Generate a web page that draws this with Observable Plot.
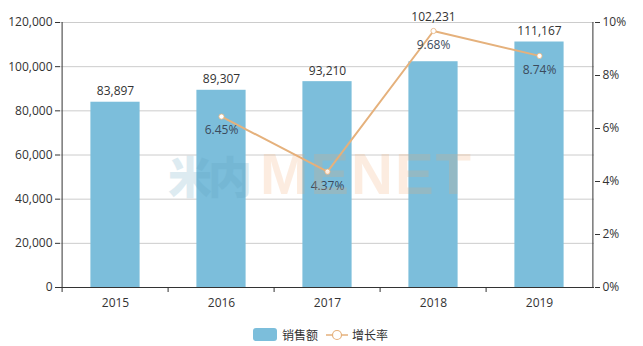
<!DOCTYPE html>
<html>
<head>
<meta charset="utf-8">
<script src="https://cdn.jsdelivr.net/npm/d3@7"></script>
<script src="https://cdn.jsdelivr.net/npm/@observablehq/plot@0.6"></script>
<style>
  body { margin: 0; background: #fff; font-family: "Open Sans", "Noto Sans CJK SC", sans-serif; }
  #wrap { position: relative; width: 643px; height: 346px; overflow: hidden; }
  #legend { position: absolute; left: 0; top: 326px; width: 643px; display: flex; justify-content: center; align-items: center; font-size: 12px; color: #333; font-family: "Noto Sans CJK SC", sans-serif; }
  .sw-bar { width: 24px; height: 13px; background: #7cbedb; border-radius: 3px; margin-right: 5px; margin-left: 6px; }
  .lab { margin-right: 8px; }
  #wm { position: absolute; left: 168px; top: 142px; line-height: 60px; font-weight: bold; font-size: 58px; pointer-events: none; opacity: 0.2; white-space: nowrap; }
  #wm .cn { color: #5b9fbd; font-family: "Noto Sans CJK SC", sans-serif; font-weight: 900; font-size: 44px; letter-spacing: -4px; margin-right: 12px; }
  #wm .en { color: #f2a66a; font-family: "Liberation Sans", Arial, sans-serif; letter-spacing: 2px; }
</style>
</head>
<body>
<div id="wrap">
  <div id="chart"></div>
  <div id="wm"><span class="cn">米内</span><span class="en">MENET</span></div>
  <div id="legend">
    <div class="sw-bar"></div><span class="lab">销售额</span>
    <svg width="22" height="14" style="margin-right:4px"><line x1="0" y1="7" x2="22" y2="7" stroke="#e5b17c" stroke-width="1.5"/><circle cx="11" cy="7" r="4.5" fill="#fff" stroke="#e5b17c" stroke-width="1.2"/></svg><span class="lab">增长率</span>
  </div>
</div>
<script>
const years = ["2015", "2016", "2017", "2018", "2019"];
const sales = [83897, 89307, 93210, 102231, 111167];
const growthYears = ["2016", "2017", "2018", "2019"];
const growth = [6.45, 4.37, 9.68, 8.74];
const leftTicks = [0, 20000, 40000, 60000, 80000, 100000, 120000];
const rightTicks = [0, 2, 4, 6, 8, 10];

const scaleFactor = 120000 / 10; // right axis 10% maps to 120,000
const growthData = growthYears.map((y, i) => ({year: y, g: growth[i], v: growth[i] * scaleFactor}));
const gByYear = new Map(growthData.map(d => [d.year, d.v]));
// bar labels that would collide with a higher line point are lifted above that point
const salesData = years.map((y, i) => {
  const gv = gByYear.get(y);
  const lifted = gv !== undefined && gv > sales[i];
  return {year: y, value: sales[i], labelY: lifted ? gv : sales[i], lifted};
});

const W = 643, H = 314;
const bandW = (643 - 60 - 49) / years.length;
const fmt = d3.format(",");

const chart = Plot.plot({
  width: W,
  height: H,
  marginLeft: 60,
  marginRight: 49,
  marginTop: 22,
  marginBottom: 27,
  style: {fontFamily: "'Open Sans', 'Noto Sans CJK SC', sans-serif", fontSize: "12px", color: "#333", background: "white"},
  x: {domain: years, padding: 0, label: null},
  y: {domain: [0, 120000], label: null},
  marks: [
    Plot.gridY(leftTicks, {stroke: "#cccccc", strokeOpacity: 1}),
    Plot.barY(salesData, {x: "year", y: "value", fill: "#7cbedb", insetLeft: (bandW - 50) / 2, insetRight: (bandW - 50) / 2}),
    Plot.ruleY([0], {stroke: "#333", strokeWidth: 1}),
    Plot.ruleX([years[0]], {x: d => d, y1: 0, y2: 120000, dx: -bandW / 2, stroke: "#333"}),
    Plot.ruleX([years[years.length - 1]], {x: d => d, y1: 0, y2: 120000, dx: bandW / 2, stroke: "#333"}),
    Plot.axisY({ticks: leftTicks, anchor: "left", tickSize: 5, tickPadding: 3, tickFormat: fmt, label: null, fill: "#333", stroke: "#333", fontSize: 12}),
    Plot.axisY({ticks: rightTicks.map(t => t * scaleFactor), anchor: "right", tickSize: 5, tickPadding: 3, tickFormat: d => (d / scaleFactor) + "%", label: null, fill: "#333", stroke: "#333", fontSize: 12}),
    Plot.axisX({tickSize: 5, text: null, dx: -bandW / 2, stroke: "#333"}),
    Plot.axisX({tickSize: 0, tickPadding: 11, label: null, fill: "#333", fontSize: 12}),
    Plot.text(salesData.filter(d => !d.lifted), {x: "year", y: "labelY", text: d => fmt(d.value), dy: -11, fill: "#333", fontSize: 12}),
    Plot.text(salesData.filter(d => d.lifted), {x: "year", y: "labelY", text: d => fmt(d.value), dy: -14, fill: "#333", fontSize: 12}),
    Plot.line(growthData, {x: "year", y: "v", stroke: "#e5b17c", strokeWidth: 2}),
    Plot.dot(growthData, {x: "year", y: "v", r: 2.6, fill: "white", stroke: "#e5b17c", strokeWidth: 0.8}),
    Plot.text(growthData, {x: "year", y: "v", text: d => d.g.toFixed(2) + "%", dy: 14, fill: "#3b4a5c", fontSize: 12})
  ]
});
document.getElementById("chart").appendChild(chart);
</script>
</body>
</html>
